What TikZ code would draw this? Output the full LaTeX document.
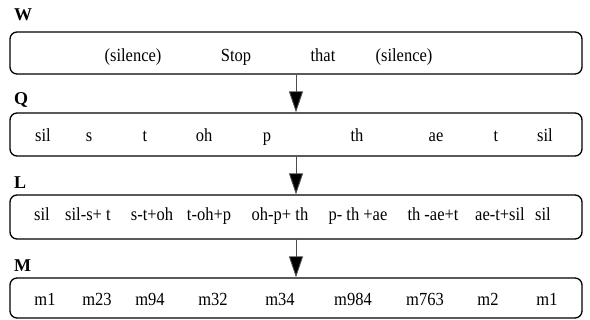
\documentclass[tikz,border=0pt]{standalone}
\usepackage{fontspec}
\usepackage{graphicx}
\setmainfont{Liberation Serif}
\usetikzlibrary{arrows.meta}
\newcommand{\tx}[1]{\scalebox{1}[1.12]{#1}}
\tikzset{
  layerbox/.style={draw, line width=1.3pt, rounded corners=7pt, inner sep=0pt},
  lab/.style={font=\fontsize{18}{20}\bfseries, anchor=west, inner sep=0pt},
  wd/.style={font=\fontsize{16.5}{19}\selectfont, inner sep=0pt, anchor=base},
  arr/.style={draw=black!70, line width=0.9pt, -{Triangle[length=21pt,width=14pt,fill=black]}},
}
\begin{document}
\begin{tikzpicture}[x=1pt,y=-1pt]
\useasboundingbox (0,0) rectangle (590,320);
% boxes
\node[layerbox, minimum width=572pt, minimum height=42pt] (W) at (296,53) {};
\node[layerbox, minimum width=572pt, minimum height=43pt] (Q) at (296,134.5) {};
\node[layerbox, minimum width=572pt, minimum height=44pt] (L) at (296,217) {};
\node[layerbox, minimum width=572pt, minimum height=40pt] (M) at (296,298) {};
% labels
\node[lab] (lW) at (14,15) {W};
\node[lab] (lQ) at (14,100) {Q};
\node[lab] (lL) at (14,183) {L};
\node[lab] (lM) at (14,266) {M};
% W words
\node[wd] (w1) at (133,62) {\tx{(silence)}};
\node[wd] (w2) at (236,62) {\tx{Stop}};
\node[wd] (w3) at (323,62) {\tx{that}};
\node[wd] (w4) at (404,62) {\tx{(silence)}};
% Q words
\node[wd] (q1) at (43,142) {\tx{sil}};
\node[wd] (q2) at (89,142) {\tx{s}};
\node[wd] (q3) at (145,142) {\tx{t}};
\node[wd] (q4) at (204,142) {\tx{oh}};
\node[wd] (q5) at (267,142) {\tx{p}};
\node[wd] (q6) at (357,142) {\tx{th}};
\node[wd] (q7) at (436,142) {\tx{ae}};
\node[wd] (q8) at (496,142) {\tx{t}};
\node[wd] (q9) at (545,142) {\tx{sil}};
% L words
\node[wd] (l1) at (42,220.5) {\tx{sil}};
\node[wd] (l2) at (88,220.5) {\tx{sil-s+ t}};
\node[wd] (l3) at (152,220.5) {\tx{s-t+oh}};
\node[wd] (l4) at (209,220.5) {\tx{t-oh+p}};
\node[wd] (l5) at (280,220.5) {\tx{oh-p+ th}};
\node[wd] (l6) at (358,220.5) {\tx{p- th +ae}};
\node[wd] (l7) at (433,220.5) {\tx{th -ae+t}};
\node[wd] (l8) at (500,220.5) {\tx{ae-t+sil}};
\node[wd] (l9) at (543,220.5) {\tx{sil}};
% M words
\node[wd] (m1) at (45,306) {\tx{m1}};
\node[wd] (m2) at (97,306) {\tx{m23}};
\node[wd] (m3) at (150,306) {\tx{m94}};
\node[wd] (m4) at (213,306) {\tx{m32}};
\node[wd] (m5) at (280,306) {\tx{m34}};
\node[wd] (m6) at (353,306) {\tx{m984}};
\node[wd] (m7) at (425,306) {\tx{m763}};
\node[wd] (m8) at (488,306) {\tx{m2}};
\node[wd] (m9) at (547,306) {\tx{m1}};
% arrows
\coordinate (ax) at (296,0);
\draw[arr] (W.south -| ax) -- (Q.north -| ax);
\draw[arr] (Q.south -| ax) -- (L.north -| ax);
\draw[arr] (L.south -| ax) -- (M.north -| ax);
\end{tikzpicture}
\end{document}
